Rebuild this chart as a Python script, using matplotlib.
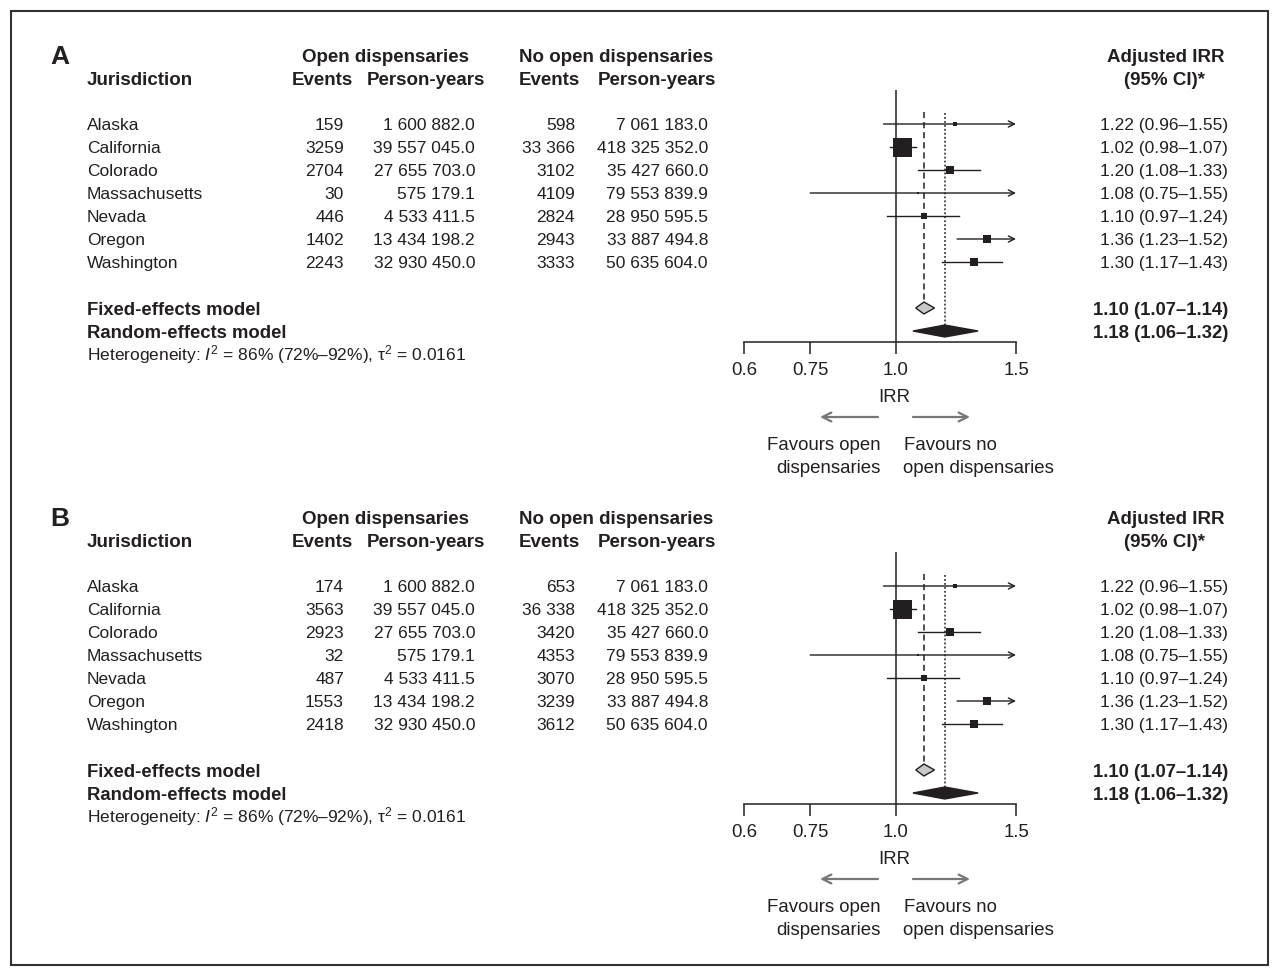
import matplotlib
matplotlib.use('Agg')
import numpy as np
import matplotlib.pyplot as plt
from matplotlib.patches import Polygon, Rectangle
from matplotlib.ticker import NullLocator

plt.rcParams['font.family'] = ['Liberation Sans', 'DejaVu Sans']
plt.rcParams['mathtext.fontset'] = 'custom'
plt.rcParams['mathtext.rm'] = 'Liberation Sans'
plt.rcParams['mathtext.it'] = 'Liberation Sans:italic'
plt.rcParams['mathtext.bf'] = 'Liberation Sans:bold'

# data
jurisdictions = ['Alaska', 'California', 'Colorado', 'Massachusetts', 'Nevada', 'Oregon', 'Washington']
open_py = [1600882.0, 39557045.0, 27655703.0, 575179.1, 4533411.5, 13434198.2, 32930450.0]
noopen_py = [7061183.0, 418325352.0, 35427660.0, 79553839.9, 28950595.5, 33887494.8, 50635604.0]
open_events_a = [159, 3259, 2704, 30, 446, 1402, 2243]
noopen_events_a = [598, 33366, 3102, 4109, 2824, 2943, 3333]
open_events_b = [174, 3563, 2923, 32, 487, 1553, 2418]
noopen_events_b = [653, 36338, 3420, 4353, 3070, 3239, 3612]
irr = [1.22, 1.02, 1.20, 1.08, 1.10, 1.36, 1.30]
irr_lo = [0.96, 0.98, 1.08, 0.75, 0.97, 1.23, 1.17]
irr_hi = [1.55, 1.07, 1.33, 1.55, 1.24, 1.52, 1.43]
fixed_est = [1.10, 1.07, 1.14]
random_est = [1.18, 1.06, 1.32]
heterogeneity = 'Heterogeneity: $I^2$ = 86% (72%\u201392%), \u03c4$^2$ = 0.0161'
xticks = [0.6, 0.75, 1.0, 1.5]
xticklabels = ['0.6', '0.75', '1.0', '1.5']

INK = '#231f20'
W, H = 1280, 977
PX = 100 / 72.0

fig = plt.figure(figsize=(12.8, 9.77), dpi=100)
bg = fig.add_axes([0, 0, 1, 1])
bg.set_xlim(0, W)
bg.set_ylim(H, 0)
bg.axis('off')
bg.add_patch(Rectangle((11, 11), 1257, 954, fill=False, ec='#333333', lw=1.5))


def put(x, y, s, size=12.5, bold=False, ha='left', color=INK):
    # y is the visual centre of the capitals
    bg.text(x, y + 0.358 * size * PX, s, fontsize=size, ha=ha, va='baseline',
            fontweight='bold' if bold else 'normal', color=color)


def fmt_events(v):
    return f'{v:,}'.replace(',', ' ') if v >= 10000 else str(v)


def fmt_py(v):
    return f'{v:,.1f}'.replace(',', ' ')


def ci_text(e, lo, hi):
    return f'{e:.2f} ({lo:.2f}\u2013{hi:.2f})'


def panel(top, label, ev_open, ev_noopen):
    put(50, top + 55, label, 19, True)
    put(386, top + 55, 'Open dispensaries', 13.5, True, 'center')
    put(616, top + 55, 'No open dispensaries', 13.5, True, 'center')
    put(87, top + 78, 'Jurisdiction', 13.5, True)
    put(353, top + 78, 'Events', 13.5, True, 'right')
    put(485, top + 78, 'Person-years', 13.5, True, 'right')
    put(580, top + 78, 'Events', 13.5, True, 'right')
    put(716, top + 78, 'Person-years', 13.5, True, 'right')
    put(1166, top + 55, 'Adjusted IRR', 13.5, True, 'center')
    put(1165, top + 78, '(95% CI)*', 13.5, True, 'center')

    for i, name in enumerate(jurisdictions):
        y = top + 124 + 23 * i
        put(87, y, name)
        put(344, y, fmt_events(ev_open[i]), ha='right')
        put(475, y, fmt_py(open_py[i]), ha='right')
        put(575, y, fmt_events(ev_noopen[i]), ha='right')
        put(708, y, fmt_py(noopen_py[i]), ha='right')
        put(1228, y, ci_text(irr[i], irr_lo[i], irr_hi[i]), ha='right')

    put(87, top + 308, 'Fixed-effects model', 13.3, True)
    put(87, top + 331, 'Random-effects model', 13.3, True)
    put(1228, top + 308, ci_text(*fixed_est), 13.3, True, 'right')
    put(1228, top + 331, ci_text(*random_est), 13.3, True, 'right')
    put(87, top + 354, heterogeneity)

    # forest axes
    ax = fig.add_axes([744 / W, 1 - (342 + top) / H, 272 / W, 252 / H])
    ax.patch.set_alpha(0)
    ax.set_xscale('log')
    ax.set_xlim(0.6, 1.5)
    ax.set_ylim(9.478, -1.478)
    for s in ['top', 'left', 'right']:
        ax.spines[s].set_visible(False)
    ax.spines['bottom'].set_linewidth(1.1)
    ax.spines['bottom'].set_color(INK)
    ax.set_xticks(xticks)
    ax.set_xticklabels(xticklabels)
    ax.xaxis.set_minor_locator(NullLocator())
    ax.set_yticks([])
    ax.tick_params(axis='x', direction='out', length=8.5, width=1.1, color=INK,
                   labelsize=13.4, labelcolor=INK, pad=6)

    ax.axvline(1.0, color=INK, lw=1.1, zorder=1)
    ax.plot([fixed_est[0]] * 2, [-0.5, 8 - 0.27], color=INK, lw=1.1,
            ls=(0, (4, 2.6)), zorder=1)
    ax.plot([random_est[0]] * 2, [-0.48, 9 - 0.27], color=INK, lw=1.1,
            ls=(0, (1.2, 1.4)), zorder=1)

    lo = np.array(irr_lo)
    hi = np.array(irr_hi)
    se = (np.log(hi) - np.log(lo)) / 3.92
    w = 1 / se ** 2
    side = 19 * np.sqrt(w / w.max()) / PX
    xmax = ax.get_xlim()[1]
    for i in range(len(irr)):
        if hi[i] > xmax:
            ax.annotate('', xy=(xmax, i), xytext=(lo[i], i),
                        arrowprops=dict(arrowstyle='->', color=INK, lw=1.0,
                                        mutation_scale=11, shrinkA=0, shrinkB=0),
                        annotation_clip=False, zorder=3)
        else:
            ax.plot([lo[i], hi[i]], [i, i], color=INK, lw=1.0, zorder=3)
        ax.plot(irr[i], i, marker='s', ms=side[i], color=INK, mew=0, zorder=5,
                clip_on=False)

    h = 0.26
    e, l, u = fixed_est
    ax.add_patch(Polygon([(l, 8), (e, 8 - h), (u, 8), (e, 8 + h)], closed=True,
                         fc='#c8c8c8', ec=INK, lw=1.0, zorder=5))
    e, l, u = random_est
    ax.add_patch(Polygon([(l, 9), (e, 9 - h), (u, 9), (e, 9 + h)], closed=True,
                         fc=INK, ec=INK, lw=1.0, zorder=5))

    put(894, top + 395, 'IRR', 13.4, ha='center')
    arrow = dict(arrowstyle='->', color='#777777', lw=1.6, mutation_scale=16,
                 shrinkA=0, shrinkB=0)
    bg.annotate('', xy=(820, top + 417), xytext=(878, top + 417), arrowprops=arrow)
    bg.annotate('', xy=(970, top + 417), xytext=(913, top + 417), arrowprops=arrow)
    put(881, top + 443, 'Favours open', 13.4, ha='right')
    put(881, top + 466, 'dispensaries', 13.4, ha='right')
    put(904, top + 443, 'Favours no', 13.4)
    put(903, top + 466, 'open dispensaries', 13.4)


panel(0, 'A', open_events_a, noopen_events_a)
panel(462, 'B', open_events_b, noopen_events_b)

fig.savefig('out.png', dpi=100)
